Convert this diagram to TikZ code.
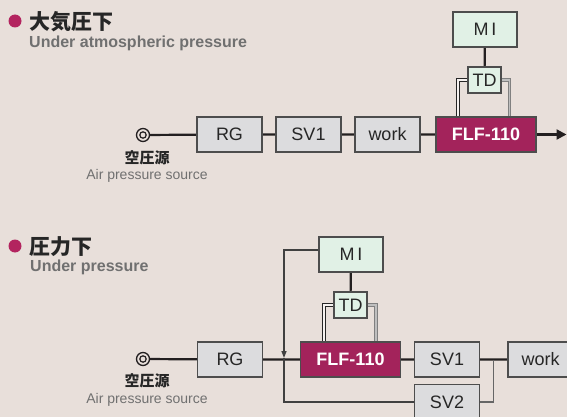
\documentclass[tikz,border=0pt]{standalone}
\usepackage{fontspec}
\setmainfont{Liberation Sans}
\newfontfamily\cjk{Noto Sans CJK JP}
\usetikzlibrary{arrows.meta,backgrounds}
\definecolor{paper}{HTML}{E8DFDA}
\definecolor{boxgray}{HTML}{DCDCDE}
\definecolor{boxedge}{HTML}{4D4D4D}
\definecolor{mint}{HTML}{E1F1E6}
\definecolor{flfred}{HTML}{A3235B}
\definecolor{dotred}{HTML}{B3245F}
\definecolor{subgray}{HTML}{707070}
\definecolor{pipeblack}{HTML}{231F20}

\tikzset{
  unit/.style={draw=boxedge, line width=1.3pt, fill=boxgray, text=black!85,
    minimum width=65pt, minimum height=35pt, inner sep=0pt,
    font=\fontsize{18}{18}\selectfont},
  flfunit/.style={unit, fill=flfred, text=white, minimum width=100pt,
    font=\fontsize{18}{18}\selectfont\bfseries},
  miunit/.style={unit, fill=mint, minimum width=64pt},
  tdunit/.style={unit, fill=mint, minimum width=33pt, minimum height=26pt},
  pipe/.style={draw=pipeblack, line width=2.2pt},
  sigdark/.style={draw=black!85, line width=1pt, double=paper!40!white, double distance=1.1pt},
  siggray/.style={draw=black!50, line width=1pt, double=black!25, double distance=1.1pt},
  fbline/.style={draw=black!75, line width=1.4pt},
  branch/.style={draw=black!60, line width=1.8pt},
  source/.style={circle, draw=pipeblack, line width=1.3pt, minimum size=13pt, inner sep=0pt},
  heading/.style={anchor=west, inner sep=0pt, text=black!85, font=\fontsize{21}{21}\selectfont\cjk\bfseries},
  subheading/.style={anchor=base west, inner sep=0pt, text=subgray, font=\fontsize{16}{16}\selectfont\bfseries},
  srcjp/.style={inner sep=0pt, text=black!85, font=\fontsize{15}{15}\selectfont\cjk\bfseries},
  srcen/.style={anchor=base, inner sep=0pt, text=subgray, font=\fontsize{14}{14}\selectfont},
}

\begin{document}
\begin{tikzpicture}[x=1pt, y=-1pt, >=Triangle]
    \useasboundingbox (0,0) rectangle (567,417);
    \clip (0,0) rectangle (567,417);

    % Under atmospheric pressure
    \fill[dotred] (15,21) circle (6.5);
    \node[heading] (head1) at (29,21.5) {大気圧下};
    \node[subheading] (sub1) at (29,47.7) {Under atmospheric pressure};

    \node[source] (src1) at (143,135) {};
    \draw[pipeblack, line width=1.2pt] (src1) circle (3.2);
    \node[srcjp] (jp1) at (147,157.5) {空圧源};
    \node[srcen] (en1) at (147,179.3) {Air pressure source};

    \node[unit] (rg1) at (229.5,134.5) {RG};
    \node[unit] (sva1) at (308.5,134.5) {SV1};
    \node[unit] (work1) at (387.5,134.5) {work};
    \node[flfunit] (flf1) at (486,134.5) {FLF-110};
    \node[miunit] (mi1) at (485,29.5) {M\kern3pt I};
    \node[tdunit] (td1) at (484.5,80) {TD};
    \coordinate (out1) at (566.5,134.5);
    \coordinate (tdl1) at (458,117);
    \coordinate (tdr1) at (509.5,117);

    % Under pressure
    \fill[dotred] (15,246) circle (6.5);
    \node[heading] (head2) at (29,246.5) {圧力下};
    \node[subheading] (sub2) at (30,271.7) {Under pressure};

    \node[source] (src2) at (143,359) {};
    \draw[pipeblack, line width=1.2pt] (src2) circle (3.2);
    \node[srcjp] (jp2) at (147,381) {空圧源};
    \node[srcen] (en2) at (147,403.3) {Air pressure source};

    \node[unit] (rg2) at (230,359.5) {RG};
    \node[flfunit] (flf2) at (350.5,359.5) {FLF-110};
    \node[unit] (sva2) at (447,359.5) {SV1};
    \node[unit] (work2) at (540.5,359.5) {work};
    \node[unit] (svb2) at (447,402) {SV2};
    \node[miunit] (mi2) at (351,254.5) {M\kern3pt I};
    \node[tdunit] (td2) at (350.5,305) {TD};
    \coordinate (tdl2) at (324,342);
    \coordinate (tdr2) at (376,342);
    \coordinate (fbdown) at (284,358);
    \coordinate (split) at (493.5,359.5);

    % Lines behind the boxes
    \begin{scope}[on background layer]
        \fill[paper] (0,0) rectangle (567,417);

        \draw[pipe] (src1) -- (rg1) (rg1) -- (sva1) (sva1) -- (work1) (work1) -- (flf1) (mi1) -- (td1);
        \draw[pipe, -{Triangle[length=10pt,width=10pt]}] (flf1) -- (out1);
        \draw[sigdark] (td1.west) -| (tdl1);
        \draw[siggray] (td1.east) -| (tdr1);

        \draw[pipe] (src2) -- (rg2) (rg2) -- (flf2) (flf2) -- (sva2) (sva2) -- (work2) (mi2) -- (td2);
        \draw[sigdark] (td2.west) -| (tdl2);
        \draw[siggray] (td2.east) -| (tdr2);
        \draw[fbline, -{Triangle[length=7pt,width=5pt]}] ([yshift=4.5pt]mi2.west) -| (fbdown);
        \draw[fbline] (fbdown) |- (svb2.west);
        \draw[branch] (split) |- (svb2.east);
    \end{scope}
\end{tikzpicture}
\end{document}
